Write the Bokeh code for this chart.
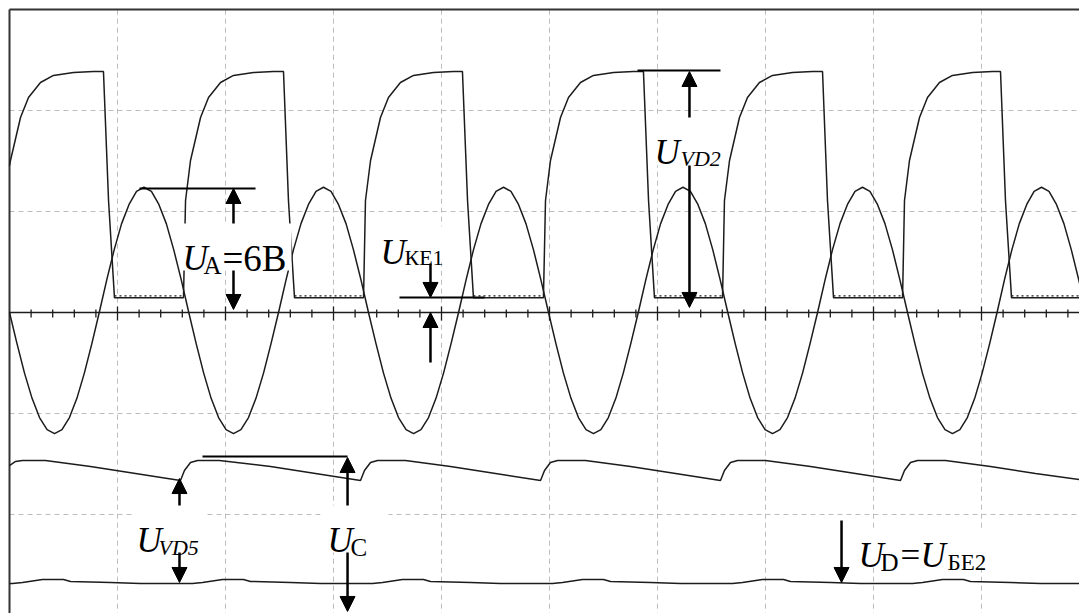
from bokeh.plotting import figure
from bokeh.models import Range1d, Arrow, NormalHead, ColumnDataSource, Span
from bokeh.core.properties import value
from bokeh.embed import file_html
from bokeh.resources import INLINE

# ---- data, in screen divisions (x: 0..~9.9, y: centre line = 0) ----
# channel A: sine, U_A
sine_x = [0.000, 0.070, 0.139, 0.209, 0.278, 0.348, 0.417,
          0.486, 0.555, 0.624, 0.693, 0.762, 0.831, 0.900, 0.969, 1.038, 1.107, 1.176, 1.245,
          1.314, 1.383, 1.452, 1.521, 1.591, 1.660, 1.729, 1.798, 1.867, 1.936, 2.005, 2.074,
          2.143, 2.213, 2.282, 2.352, 2.421, 2.491, 2.560, 2.629, 2.699, 2.768, 2.838, 2.907,
          2.977, 3.046, 3.116, 3.185, 3.255, 3.324, 3.394, 3.463, 3.533, 3.602, 3.672, 3.741,
          3.810, 3.880, 3.949, 4.019, 4.088, 4.158, 4.227, 4.296, 4.366, 4.435, 4.505, 4.574,
          4.643, 4.713, 4.782, 4.852, 4.921, 4.991, 5.060, 5.129, 5.199, 5.268, 5.338, 5.407,
          5.476, 5.545, 5.614, 5.683, 5.752, 5.822, 5.891, 5.960, 6.029, 6.098, 6.167, 6.236,
          6.305, 6.374, 6.443, 6.512, 6.581, 6.651, 6.720, 6.789, 6.858, 6.927, 6.996, 7.065,
          7.134, 7.204, 7.273, 7.343, 7.412, 7.482, 7.551, 7.620, 7.690, 7.759, 7.829, 7.898,
          7.967, 8.037, 8.106, 8.176, 8.245, 8.315, 8.384, 8.453, 8.523, 8.592, 8.662, 8.731,
          8.800, 8.869, 8.937, 9.006, 9.075, 9.144, 9.212, 9.281, 9.350, 9.419, 9.487, 9.556,
          9.625, 9.694, 9.763, 9.832, 9.901, 9.970]
sine_y = [0.00, -0.31, -0.60, -0.85, -1.04, -1.16, -1.20,
          -1.16, -1.04, -0.85, -0.60, -0.31, 0.00, 0.32, 0.62, 0.88, 1.07, 1.20, 1.24,
          1.20, 1.07, 0.88, 0.62, 0.32, 0.00, -0.31, -0.60, -0.85, -1.04, -1.16, -1.20,
          -1.16, -1.04, -0.85, -0.60, -0.31, 0.00, 0.32, 0.62, 0.88, 1.07, 1.20, 1.24,
          1.20, 1.07, 0.88, 0.62, 0.32, 0.00, -0.31, -0.60, -0.85, -1.04, -1.16, -1.20,
          -1.16, -1.04, -0.85, -0.60, -0.31, 0.00, 0.32, 0.62, 0.88, 1.07, 1.20, 1.24,
          1.20, 1.07, 0.88, 0.62, 0.32, 0.00, -0.31, -0.60, -0.85, -1.04, -1.16, -1.20,
          -1.16, -1.04, -0.85, -0.60, -0.31, 0.00, 0.32, 0.62, 0.88, 1.07, 1.20, 1.24,
          1.20, 1.07, 0.88, 0.62, 0.32, 0.00, -0.31, -0.60, -0.85, -1.04, -1.16, -1.20,
          -1.16, -1.04, -0.85, -0.60, -0.31, 0.00, 0.32, 0.62, 0.88, 1.07, 1.20, 1.24,
          1.20, 1.07, 0.88, 0.62, 0.32, 0.00, -0.31, -0.60, -0.85, -1.04, -1.16, -1.20,
          -1.16, -1.04, -0.85, -0.60, -0.31, 0.00, 0.32, 0.62, 0.88, 1.07, 1.20, 1.24,
          1.20, 1.07, 0.88, 0.62, 0.32, 0.00]

# channel B: U_VD2 / U_KE1 pulses
pulse_x = [0.000, 0.009, 0.102, 0.176, 0.287, 0.407, 0.593, 0.778, 0.870, 0.917, 0.972,
           1.611, 1.630, 1.676, 1.769, 1.843, 1.954, 2.074, 2.259, 2.444, 2.537, 2.583, 2.639,
           3.278, 3.296, 3.343, 3.435, 3.509, 3.620, 3.741, 3.926, 4.111, 4.194, 4.241, 4.296,
           4.944, 4.963, 5.009, 5.102, 5.176, 5.287, 5.407, 5.593, 5.778, 5.870, 5.917, 5.972,
           6.602, 6.620, 6.667, 6.759, 6.833, 6.944, 7.065, 7.250, 7.435, 7.528, 7.574, 7.630,
           8.269, 8.287, 8.333, 8.426, 8.500, 8.611, 8.731, 8.917, 9.102, 9.176, 9.222, 9.278,
           9.907]
pulse_y = [1.455, 1.505, 1.931, 2.129, 2.277, 2.347, 2.376, 2.386, 2.386, 1.109, 0.145,
           0.145, 1.109, 1.505, 1.931, 2.129, 2.277, 2.347, 2.376, 2.386, 2.386, 1.109, 0.145,
           0.145, 1.109, 1.505, 1.931, 2.129, 2.277, 2.347, 2.376, 2.386, 2.386, 1.109, 0.145,
           0.145, 1.109, 1.505, 1.931, 2.129, 2.277, 2.347, 2.376, 2.386, 2.386, 1.109, 0.145,
           0.145, 1.109, 1.505, 1.931, 2.129, 2.277, 2.347, 2.376, 2.386, 2.386, 1.109, 0.145,
           0.145, 1.109, 1.505, 1.931, 2.129, 2.277, 2.347, 2.376, 2.386, 2.386, 1.109, 0.145,
           0.145]
# low (saturated) stretches of channel B that carry ripple
ripple_x0 = [0.972, 2.639, 4.296, 5.972, 7.630, 9.278]
ripple_x1 = [1.611, 3.278, 4.944, 6.602, 8.269, 9.907]
ripple_level = 0.145

# channel C: U_C sawtooth
cap_x = [0.000, 0.056, 0.120, 0.333, 0.750, 1.167,
         1.583, 1.620, 1.676, 1.741, 1.944, 2.417, 2.833,
         3.250, 3.287, 3.343, 3.407, 3.667, 4.083, 4.500,
         4.917, 4.954, 5.009, 5.074, 5.333, 5.750, 6.167,
         6.583, 6.620, 6.676, 6.741, 7.000, 7.417, 7.833,
         8.250, 8.287, 8.343, 8.407, 8.667, 9.083, 9.500,
         9.907]
cap_y = [-1.515, -1.475, -1.465, -1.465, -1.525, -1.594,
         -1.663, -1.564, -1.485, -1.465, -1.465, -1.525, -1.594,
         -1.663, -1.564, -1.485, -1.465, -1.465, -1.525, -1.594,
         -1.663, -1.564, -1.485, -1.465, -1.465, -1.525, -1.594,
         -1.663, -1.564, -1.485, -1.465, -1.465, -1.525, -1.594,
         -1.663, -1.564, -1.485, -1.465, -1.465, -1.525, -1.594,
         -1.653]

# channel D: U_D = U_BE2
base_x = [0.000, 0.028, 0.120, 0.306, 0.500, 0.565, 0.935, 1.213,
          1.694, 1.787, 1.972, 2.167, 2.231, 2.602, 2.880,
          3.361, 3.454, 3.639, 3.833, 3.898, 4.269, 4.546,
          5.028, 5.120, 5.306, 5.500, 5.565, 5.935, 6.213,
          6.694, 6.787, 6.972, 7.167, 7.231, 7.602, 7.880,
          8.361, 8.454, 8.639, 8.833, 8.898, 9.269, 9.546,
          9.907]
base_y = [-2.683, -2.683, -2.673, -2.644, -2.644, -2.663, -2.673, -2.683,
          -2.683, -2.673, -2.644, -2.644, -2.663, -2.673, -2.683,
          -2.683, -2.673, -2.644, -2.644, -2.663, -2.673, -2.683,
          -2.683, -2.673, -2.644, -2.644, -2.663, -2.673, -2.683,
          -2.683, -2.673, -2.644, -2.644, -2.663, -2.673, -2.683,
          -2.683, -2.673, -2.644, -2.644, -2.663, -2.673, -2.683,
          -2.683]

# graticule
grid_x = [1, 2, 3, 4, 5, 6, 7, 8, 9]
grid_y = [2, 1, -1, -2]
minor_tick_x = [i / 5 for i in range(1, 50) if i % 5 != 0]
major_tick_x = grid_x

# annotations (divisions)
meas_x0 = [1.204, 5.815, 3.611, 1.787]
meas_x1 = [2.278, 6.583, 4.398, 3.130]
meas_y = [1.228, 2.396, 0.149, -1.426]

arr_x = [2.074, 2.074, 3.898, 3.898, 6.296, 6.296, 1.574, 1.574, 3.130, 3.130, 7.704]
arr_y0 = [0.881, 0.416, 0.485, -0.495, 1.931, 1.455, -1.911, -2.376, -1.911, -2.376, -2.059]
arr_y1 = [1.228, 0.030, 0.149, 0.000, 2.386, 0.050, -1.644, -2.673, -1.436, -2.960, -2.673]

box_l = [1.583, 3.407, 5.944, 1.148, 2.880, 7.833]
box_r = [2.611, 4.074, 6.620, 1.824, 3.509, 9.083]
box_t = [0.881, 0.851, 1.931, -1.911, -1.911, -2.139]
box_b = [0.416, 0.495, 1.455, -2.376, -2.376, -2.495]

# label pieces
u_x = [1.602, 3.435, 5.972, 1.176, 2.944, 7.861, 8.435]
u_y = [0.535, 0.594, 1.584, -2.257, -2.257, -2.406, -2.406]
big_txt = ["=6В", "="]
big_x = [1.972, 8.250]
big_y = [0.535, -2.406]
big_size = ["37px", "35px"]
sub_txt = ["A", "КЕ1", "C", "D", "БЕ2"]
sub_x = [1.796, 3.657, 3.157, 8.065, 8.685]
sub_y = [0.465, 0.545, -2.327, -2.475, -2.475]
sub_size = ["25px", "22px", "25px", "25px", "23px"]
subi_txt = ["VD2", "VD5"]
subi_x = [6.213, 1.380]
subi_y = [1.525, -2.327]

# ---- figure ----
p = figure(width=1079, height=613, output_backend="svg", toolbar_location=None,
           x_range=Range1d(-9 / 108, 1070 / 108), y_range=Range1d(-301 / 101, 312 / 101),
           x_axis_location=None, y_axis_location=None, min_border=0)
p.min_border_left = p.min_border_right = p.min_border_top = p.min_border_bottom = 0
p.outline_line_color = None
p.grid.visible = False
p.background_fill_color = "white"
p.border_fill_color = "white"

GRID = "#bdbdbd"
INK = "#1c1c1c"

p.segment(x0=grid_x, y0=[-3.2] * len(grid_x), x1=grid_x, y1=[3.0] * len(grid_x),
          line_color=GRID, line_width=1, line_dash="5 4")
p.segment(x0=[0] * len(grid_y), y0=grid_y, x1=[10] * len(grid_y), y1=grid_y,
          line_color=GRID, line_width=1, line_dash="5 4")

# frame (left and top visible)
p.segment(x0=[0, 0], y0=[3.0, 3.0], x1=[0, 10], y1=[-3.2, 3.0], line_color="#333333", line_width=2)

# centre axis with ticks
p.segment(x0=[0], y0=[0], x1=[10], y1=[0], line_color=INK, line_width=1.6)
p.segment(x0=minor_tick_x, y0=[0.03] * len(minor_tick_x), x1=minor_tick_x,
          y1=[-0.05] * len(minor_tick_x), line_color=INK, line_width=1.3)
p.segment(x0=major_tick_x, y0=[0.06] * len(major_tick_x), x1=major_tick_x,
          y1=[-0.08] * len(major_tick_x), line_color=INK, line_width=1.3)

# waveforms
p.line(sine_x, sine_y, line_color=INK, line_width=1.5)
p.line(pulse_x, pulse_y, line_color=INK, line_width=1.5)
p.segment(x0=ripple_x0, y0=[ripple_level + 0.02] * 6, x1=ripple_x1, y1=[ripple_level + 0.02] * 6,
          line_color=INK, line_width=1.3, line_dash="2 3")
p.line(cap_x, cap_y, line_color=INK, line_width=1.5)
p.line(base_x, base_y, line_color=INK, line_width=1.5)

# label backgrounds
p.quad(left=box_l, right=box_r, top=box_t, bottom=box_b, fill_color="white", line_color=None)

# measurement lines
p.segment(x0=meas_x0, y0=meas_y, x1=meas_x1, y1=meas_y, line_color="black", line_width=2)

# arrows
asrc = ColumnDataSource(dict(x=arr_x, y0=arr_y0, y1=arr_y1))
p.add_layout(Arrow(end=NormalHead(size=15, fill_color="black", line_color="black", line_width=1),
                   x_start="x", y_start="y0", x_end="x", y_end="y1", source=asrc,
                   line_color="black", line_width=2.5))

FONT = value("Liberation Serif")
p.text(x=u_x, y=u_y, text=["U"] * len(u_x), text_font=FONT, text_font_size="35px",
       text_font_style="italic", text_baseline="alphabetic", text_align="left", text_color="black")
p.text(x="x", y="y", text="t", text_font_size="s",
       source=ColumnDataSource(dict(x=big_x, y=big_y, t=big_txt, s=big_size)),
       text_font=FONT, text_baseline="alphabetic", text_align="left", text_color="black")
p.text(x="x", y="y", text="t", text_font_size="s",
       source=ColumnDataSource(dict(x=sub_x, y=sub_y, t=sub_txt, s=sub_size)),
       text_font=FONT, text_baseline="alphabetic", text_align="left", text_color="black")
p.text(x=subi_x, y=subi_y, text=subi_txt, text_font=FONT, text_font_size="22px",
       text_font_style="italic", text_baseline="alphabetic", text_align="left", text_color="black")

open("out.html", "w").write(file_html(p, INLINE))
